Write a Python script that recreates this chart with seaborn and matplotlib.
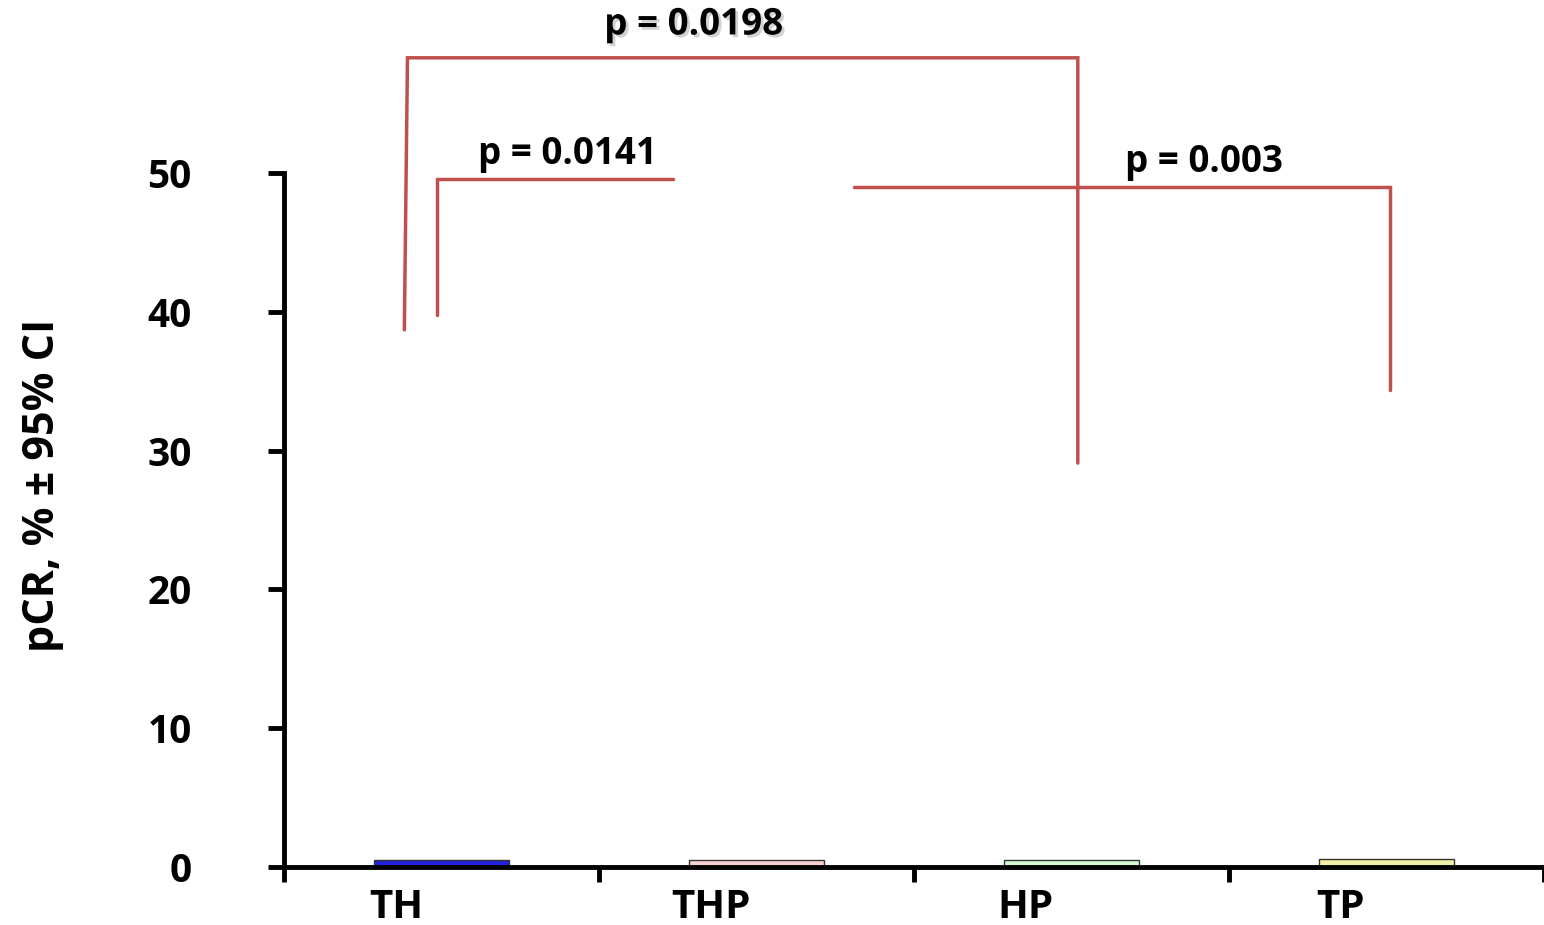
import matplotlib
matplotlib.use("Agg")
import matplotlib.pyplot as plt
import matplotlib.patheffects as pe
import seaborn as sns
import pandas as pd

# ---- data ----
categories = ["TH", "THP", "HP", "TP"]
pcr_values = [0.5, 0.5, 0.5, 0.55]
bar_colors = ["#0000FF", "#FFCCCC", "#CCFFCC", "#FFFF99"]
y_ticks = [0, 10, 20, 30, 40, 50]

# significance brackets (data coordinates)
br1_x = [-0.118, -0.108, 2.02, 2.02]
br1_y = [38.7, 58.3, 58.3, 29.1]
br1_label = "p = 0.0198"
br1_pos = (0.80, 60.7)

br2_x = [-0.013, -0.013, 0.734]
br2_y = [39.8, 49.6, 49.6]
br2_label = "p = 0.0141"
br2_pos = (0.40, 51.4)

br3_x = [1.31, 3.01, 3.01]
br3_y = [49.0, 49.0, 34.4]
br3_label = "p = 0.003"
br3_pos = (2.42, 50.8)

df = pd.DataFrame({"group": categories, "pcr": pcr_values})

sns.set_style("ticks")
plt.rcParams["font.family"] = ["Open Sans", "DejaVu Sans"]
plt.rcParams["font.weight"] = "bold"
plt.rcParams["text.color"] = "black"
plt.rcParams["axes.labelcolor"] = "black"
plt.rcParams["xtick.color"] = "black"
plt.rcParams["ytick.color"] = "black"
plt.rcParams["axes.edgecolor"] = "black"

fig = plt.figure(figsize=(15.44, 9.25), dpi=100)
ax = fig.add_axes([284 / 1544, 58 / 925, 1260 / 1544, 694 / 925])

sns.barplot(data=df, x="group", y="pcr", hue="group", palette=bar_colors,
            legend=False, width=0.43, edgecolor="#333333", linewidth=1.0, ax=ax)

ax.set_xlim(-0.5, 3.5)
ax.set_ylim(0, 50)

for s in ["top", "right"]:
    ax.spines[s].set_visible(False)
ax.spines["left"].set_linewidth(3.5)
ax.spines["bottom"].set_linewidth(3.5)
ax.spines["left"].set_bounds(0, 50)
ax.spines["bottom"].set_zorder(5)

ax.set_yticks(y_ticks)
ax.set_yticklabels([str(v) for v in y_ticks])
ax.tick_params(axis="y", direction="out", length=11.5, width=3.5, pad=55,
               labelsize=28, colors="black")

ax.set_xticks([-0.5, 0.5, 1.5, 2.5, 3.5])
ax.set_xticklabels([])
ax.tick_params(axis="x", which="major", direction="out", length=11, width=3.5,
               colors="black")
ax.set_xticks([i - 0.145 for i in range(len(categories))], minor=True)
ax.set_xticklabels(categories, minor=True, fontsize=29, fontweight="bold")
ax.tick_params(axis="x", which="minor", length=0, pad=15, colors="black")

ax.set_xlabel("")
ax.set_ylabel("pCR, % ± 95% CI", fontsize=31, fontweight="bold", va="center")
ax.yaxis.set_label_coords(-0.192, 0.55)

red = "#C0504D"
for bx, by in [(br1_x, br1_y), (br2_x, br2_y), (br3_x, br3_y)]:
    ax.plot(bx, by, color=red, lw=2.5, clip_on=False, solid_joinstyle="miter",
            zorder=6)

ax.text(*br1_pos, br1_label, ha="center", va="center", fontsize=26.5,
        fontweight="bold", clip_on=False,
        path_effects=[pe.withSimplePatchShadow(offset=(2, -2),
                                               shadow_rgbFace="gray",
                                               alpha=0.35)])
ax.text(*br2_pos, br2_label, ha="center", va="center", fontsize=26.5,
        fontweight="bold", clip_on=False)
ax.text(*br3_pos, br3_label, ha="center", va="center", fontsize=26.5,
        fontweight="bold", clip_on=False)

fig.savefig("out.png", dpi=100)
